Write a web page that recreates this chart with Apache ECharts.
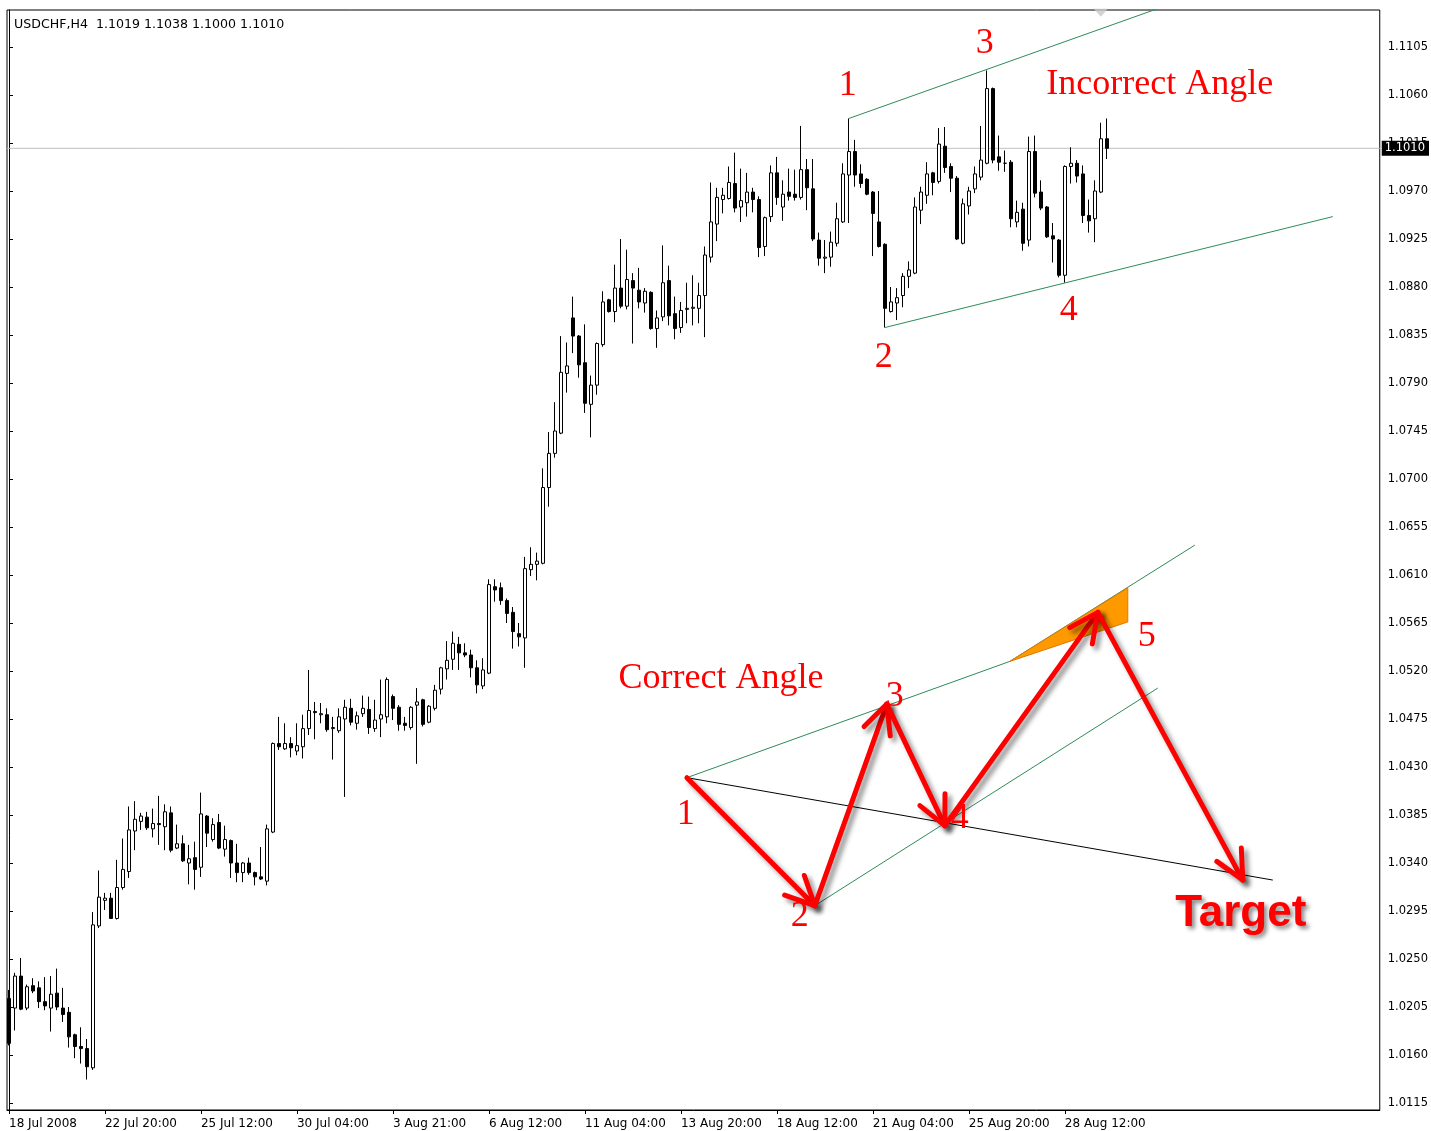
<!DOCTYPE html>
<html>
<head>
<meta charset="utf-8">
<title>USDCHF H4</title>
<script src="https://cdn.jsdelivr.net/npm/echarts@6/dist/echarts.min.js"></script>
<style>
  html, body { margin: 0; padding: 0; background: #fff; }
  #chart { width: 1431px; height: 1131px; }
</style>
</head>
<body>
<div id="chart"></div>
<script>
const chartTitle = 'USDCHF,H4  1.1019 1.1038 1.1000 1.1010';
const lastPrice = 1.1010;

// time labels, one every 16 bars
const xLabels = ['18 Jul 2008', '22 Jul 20:00', '25 Jul 12:00', '30 Jul 04:00', '3 Aug 21:00', '6 Aug 12:00',
  '11 Aug 04:00', '13 Aug 20:00', '18 Aug 12:00', '21 Aug 04:00', '25 Aug 20:00', '28 Aug 12:00'];
const xLabelStep = 16;

const yTicks = [1.0115, 1.0160, 1.0205, 1.0250, 1.0295, 1.0340, 1.0385, 1.0430, 1.0475, 1.0520, 1.0565, 1.0610,
  1.0655, 1.0700, 1.0745, 1.0790, 1.0835, 1.0880, 1.0925, 1.0970, 1.1015, 1.1060, 1.1105];

// H4 bars: [open, high, low, close]
const ohlc = [
  [1.0213, 1.0221, 1.0169, 1.0171], [1.0204, 1.0237, 1.0183, 1.0234], [1.0234, 1.0251, 1.0202, 1.0203],
  [1.0204, 1.0226, 1.0202, 1.0224], [1.0225, 1.0232, 1.0218, 1.0220], [1.0223, 1.0229, 1.0204, 1.0210],
  [1.0210, 1.0233, 1.0202, 1.0206], [1.0204, 1.0234, 1.0182, 1.0217], [1.0218, 1.0241, 1.0202, 1.0205],
  [1.0204, 1.0223, 1.0191, 1.0198], [1.0200, 1.0205, 1.0167, 1.0177], [1.0179, 1.0180, 1.0157, 1.0168],
  [1.0168, 1.0186, 1.0152, 1.0166], [1.0166, 1.0175, 1.0137, 1.0149], [1.0148, 1.0294, 1.0146, 1.0282],
  [1.0281, 1.0333, 1.0279, 1.0308], [1.0305, 1.0312, 1.0296, 1.0307], [1.0307, 1.0312, 1.0288, 1.0288],
  [1.0288, 1.0343, 1.0287, 1.0317], [1.0317, 1.0363, 1.0315, 1.0334], [1.0332, 1.0393, 1.0326, 1.0371],
  [1.0370, 1.0398, 1.0352, 1.0381], [1.0379, 1.0387, 1.0371, 1.0384], [1.0383, 1.0388, 1.0371, 1.0373],
  [1.0372, 1.0391, 1.0364, 1.0377], [1.0377, 1.0403, 1.0357, 1.0376], [1.0374, 1.0395, 1.0352, 1.0388],
  [1.0387, 1.0393, 1.0350, 1.0352], [1.0354, 1.0376, 1.0353, 1.0358], [1.0358, 1.0366, 1.0341, 1.0342],
  [1.0340, 1.0357, 1.0320, 1.0344], [1.0345, 1.0360, 1.0315, 1.0334], [1.0336, 1.0406, 1.0327, 1.0386],
  [1.0384, 1.0385, 1.0355, 1.0368], [1.0362, 1.0382, 1.0360, 1.0376], [1.0378, 1.0386, 1.0353, 1.0354],
  [1.0353, 1.0375, 1.0346, 1.0362], [1.0361, 1.0362, 1.0326, 1.0340], [1.0340, 1.0358, 1.0322, 1.0331],
  [1.0331, 1.0341, 1.0322, 1.0340], [1.0340, 1.0345, 1.0329, 1.0331], [1.0331, 1.0332, 1.0319, 1.0327],
  [1.0327, 1.0355, 1.0324, 1.0325], [1.0323, 1.0376, 1.0319, 1.0372], [1.0369, 1.0453, 1.0368, 1.0452],
  [1.0452, 1.0477, 1.0446, 1.0449], [1.0447, 1.0471, 1.0446, 1.0452], [1.0452, 1.0458, 1.0439, 1.0448],
  [1.0445, 1.0471, 1.0441, 1.0450], [1.0449, 1.0479, 1.0438, 1.0466], [1.0466, 1.0521, 1.0460, 1.0483],
  [1.0482, 1.0491, 1.0456, 1.0481], [1.0479, 1.0490, 1.0471, 1.0480], [1.0479, 1.0485, 1.0463, 1.0465],
  [1.0466, 1.0477, 1.0437, 1.0467], [1.0464, 1.0485, 1.0462, 1.0477], [1.0475, 1.0493, 1.0402, 1.0486],
  [1.0485, 1.0494, 1.0469, 1.0472], [1.0471, 1.0482, 1.0465, 1.0478], [1.0480, 1.0497, 1.0477, 1.0485],
  [1.0484, 1.0496, 1.0461, 1.0467], [1.0466, 1.0493, 1.0463, 1.0474], [1.0475, 1.0512, 1.0458, 1.0479],
  [1.0477, 1.0514, 1.0471, 1.0512], [1.0496, 1.0498, 1.0474, 1.0485], [1.0486, 1.0488, 1.0464, 1.0470],
  [1.0471, 1.0477, 1.0464, 1.0469], [1.0467, 1.0487, 1.0465, 1.0486], [1.0488, 1.0504, 1.0433, 1.0491],
  [1.0493, 1.0494, 1.0468, 1.0470], [1.0472, 1.0488, 1.0471, 1.0487], [1.0485, 1.0507, 1.0483, 1.0502],
  [1.0503, 1.0524, 1.0498, 1.0523], [1.0522, 1.0548, 1.0512, 1.0530], [1.0531, 1.0557, 1.0521, 1.0546],
  [1.0545, 1.0552, 1.0521, 1.0537], [1.0537, 1.0546, 1.0533, 1.0535], [1.0535, 1.0540, 1.0514, 1.0523],
  [1.0523, 1.0530, 1.0499, 1.0507], [1.0506, 1.0532, 1.0503, 1.0521], [1.0518, 1.0606, 1.0517, 1.0601],
  [1.0599, 1.0606, 1.0585, 1.0596], [1.0598, 1.0603, 1.0582, 1.0586], [1.0586, 1.0588, 1.0565, 1.0574],
  [1.0575, 1.0580, 1.0541, 1.0557], [1.0555, 1.0565, 1.0543, 1.0552], [1.0551, 1.0627, 1.0523, 1.0616],
  [1.0615, 1.0636, 1.0609, 1.0620], [1.0620, 1.0631, 1.0605, 1.0623], [1.0621, 1.0710, 1.0620, 1.0692],
  [1.0692, 1.0744, 1.0674, 1.0724], [1.0724, 1.0772, 1.0720, 1.0745], [1.0743, 1.0834, 1.0742, 1.0800],
  [1.0799, 1.0828, 1.0781, 1.0806], [1.0851, 1.0871, 1.0818, 1.0834], [1.0834, 1.0835, 1.0795, 1.0807],
  [1.0809, 1.0845, 1.0762, 1.0771], [1.0770, 1.0797, 1.0739, 1.0788], [1.0788, 1.0828, 1.0779, 1.0827],
  [1.0826, 1.0876, 1.0824, 1.0866], [1.0868, 1.0869, 1.0856, 1.0857], [1.0857, 1.0901, 1.0847, 1.0879],
  [1.0879, 1.0925, 1.0860, 1.0862], [1.0862, 1.0915, 1.0859, 1.0887], [1.0886, 1.0893, 1.0827, 1.0879],
  [1.0877, 1.0898, 1.0860, 1.0866], [1.0865, 1.0879, 1.0856, 1.0876], [1.0875, 1.0876, 1.0840, 1.0841],
  [1.0841, 1.0858, 1.0823, 1.0851], [1.0852, 1.0919, 1.0848, 1.0884], [1.0886, 1.0900, 1.0844, 1.0853],
  [1.0855, 1.0871, 1.0831, 1.0841], [1.0842, 1.0866, 1.0837, 1.0858], [1.0859, 1.0884, 1.0846, 1.0860],
  [1.0860, 1.0891, 1.0844, 1.0861], [1.0860, 1.0884, 1.0846, 1.0872], [1.0872, 1.0918, 1.0833, 1.0910],
  [1.0908, 1.0978, 1.0903, 1.0941], [1.0939, 1.0973, 1.0923, 1.0964], [1.0962, 1.0973, 1.0949, 1.0966],
  [1.0963, 1.0993, 1.0962, 1.0978], [1.0977, 1.1006, 1.0950, 1.0954], [1.0955, 1.0991, 1.0941, 1.0961],
  [1.0959, 1.0987, 1.0946, 1.0969], [1.0969, 1.0973, 1.0950, 1.0962], [1.0962, 1.0965, 1.0908, 1.0917],
  [1.0918, 1.0946, 1.0909, 1.0945], [1.0946, 1.0994, 1.0941, 1.0987], [1.0987, 1.1002, 1.0957, 1.0964],
  [1.0955, 1.0980, 1.0942, 1.0967], [1.0969, 1.0991, 1.0961, 1.0965], [1.0967, 1.0990, 1.0961, 1.0964],
  [1.0964, 1.1031, 1.0962, 1.0990], [1.0990, 1.1000, 1.0952, 1.0973], [1.0972, 1.1000, 1.0923, 1.0925],
  [1.0924, 1.0931, 1.0900, 1.0907], [1.0907, 1.0924, 1.0893, 1.0908], [1.0908, 1.0932, 1.0899, 1.0922],
  [1.0921, 1.0959, 1.0918, 1.0944], [1.0941, 1.0996, 1.0940, 1.0986], [1.0985, 1.1038, 1.0940, 1.1007],
  [1.1007, 1.1018, 1.0974, 1.0985], [1.0986, 1.0995, 1.0973, 1.0977], [1.0981, 1.0982, 1.0966, 1.0967],
  [1.0969, 1.0970, 1.0909, 1.0949], [1.0941, 1.0970, 1.0917, 1.0918], [1.0920, 1.0921, 1.0842, 1.0860],
  [1.0857, 1.0880, 1.0856, 1.0866], [1.0865, 1.0879, 1.0849, 1.0870], [1.0872, 1.0893, 1.0861, 1.0890],
  [1.0890, 1.0904, 1.0879, 1.0896], [1.0893, 1.0964, 1.0892, 1.0955], [1.0952, 1.0974, 1.0939, 1.0969],
  [1.0966, 1.0997, 1.0958, 1.0986], [1.0987, 1.0988, 1.0966, 1.0978], [1.0979, 1.1029, 1.0977, 1.1014],
  [1.1012, 1.1030, 1.0987, 1.0992], [1.0993, 1.0996, 1.0969, 1.0982], [1.0982, 1.0984, 1.0924, 1.0925],
  [1.0921, 1.0963, 1.0920, 1.0958], [1.0956, 1.0974, 1.0948, 1.0970], [1.0972, 1.0993, 1.0968, 1.0986],
  [1.0983, 1.1031, 1.0980, 1.0999], [1.0996, 1.1083, 1.0995, 1.1066], [1.1066, 1.1067, 1.0996, 1.0999],
  [1.1002, 1.1022, 1.0989, 1.0997], [1.0996, 1.1008, 1.0988, 1.0996], [1.0997, 1.0999, 1.0936, 1.0944],
  [1.0941, 1.0961, 1.0936, 1.0950], [1.0953, 1.0959, 1.0914, 1.0921], [1.0924, 1.1021, 1.0918, 1.1007],
  [1.1007, 1.1022, 1.0964, 1.0968], [1.0969, 1.0980, 1.0952, 1.0954], [1.0955, 1.0956, 1.0926, 1.0927],
  [1.0928, 1.0940, 1.0903, 1.0925], [1.0924, 1.0925, 1.0889, 1.0891], [1.0891, 1.0994, 1.0884, 1.0993],
  [1.0993, 1.1011, 1.0977, 1.0996], [1.0996, 1.0999, 1.0978, 1.0984], [1.0986, 1.0994, 1.0940, 1.0947],
  [1.0947, 1.0962, 1.0931, 1.0942], [1.0944, 1.0980, 1.0922, 1.0970], [1.0969, 1.1034, 1.0968, 1.1019],
  [1.1019, 1.1038, 1.1000, 1.1010]
];

// drawn objects, in [bar index, price]
const channelTop = [[140, 1.1038], [196, 1.1150]];
const channelBottom = [[146, 1.0842], [220.67, 1.0946]];
const waveLine13 = [[113, 1.0420], [166.83, 1.0529]];
const waveLineSteep = [[166.83, 1.0529], [197.67, 1.0638]];
const waveLine24 = [[134.33, 1.0300], [191.5, 1.0504]];
const targetLine = [[113, 1.0420], [210.67, 1.0324]];
const wedge = [[166.83, 1.0529], [186.5, 1.0598], [186.5, 1.0566]];
const wavePoints = [[113, 1.0420], [134.33, 1.0300], [146.33, 1.0489], [156, 1.0375], [181.5, 1.0575], [205.67, 1.0324]];
const topMarker = [[182, 1.1137]];

const noteText = ['1', '2', '3', '4', 'Incorrect Angle', '1', '2', '3', '4', '5', 'Correct Angle'];
const notePos = [[139.83, 1.1069], [145.83, 1.0814], [162.67, 1.1108], [176.67, 1.0858], [191.83, 1.1070],
  [112.83, 1.0385], [131.83, 1.0290], [147.67, 1.0496], [158.5, 1.0382], [189.67, 1.0552], [118.67, 1.0513]];
const targetText = 'Target';
const targetPos = [[205.33, 1.0292]];

const chart = echarts.init(document.getElementById('chart'));

const X_MIN = -1 / 3, X_MAX = 228.5;
const candleData = ohlc.map((d, i) => [i, d[0], d[3], d[2], d[1]]);
const xTickValues = xLabels.map((_, i) => i * xLabelStep);
const arrowSegs = wavePoints.slice(1).map((p, i) => [wavePoints[i][0], wavePoints[i][1], p[0], p[1]]);

const RED = '#ff0000';
const GREEN = '#2e8b57';
const FONT = 'DejaVu Sans';

function trendLine(points, color) {
  return {
    type: 'line',
    data: points,
    showSymbol: false,
    symbol: 'none',
    silent: true,
    z: 4,
    lineStyle: { color, width: 1 },
  };
}

chart.setOption({
  animation: false,
  backgroundColor: '#fff',
  title: {
    text: chartTitle,
    left: 9,
    top: 13,
    textStyle: { fontSize: 12.6, fontWeight: 'normal', color: '#000', fontFamily: FONT },
  },
  grid: {
    left: 7, right: 51, top: 10, bottom: 21,
    show: true, borderColor: '#000', borderWidth: 1, backgroundColor: '#fff',
  },
  xAxis: {
    type: 'value',
    min: X_MIN,
    max: X_MAX,
    axisLine: { show: true, onZero: false, lineStyle: { color: '#000', width: 1 } },
    axisTick: { show: true, customValues: xTickValues, length: 4, lineStyle: { color: '#000' } },
    axisLabel: {
      customValues: xTickValues,
      formatter: v => xLabels[Math.round(v / xLabelStep)] || '',
      align: 'left',
      color: '#000',
      fontSize: 12,
      fontFamily: FONT,
      margin: 8,
    },
    splitLine: { show: false },
  },
  yAxis: {
    type: 'value',
    position: 'right',
    min: 1.010844,
    max: 1.113969,
    axisLine: { show: true, lineStyle: { color: '#000', width: 1 } },
    axisTick: { show: true, customValues: yTicks, length: 4, lineStyle: { color: '#000' } },
    axisLabel: {
      customValues: yTicks,
      formatter: v => v.toFixed(4),
      color: '#000',
      fontSize: 11.5,
      fontFamily: FONT,
      margin: 8,
      padding: [3, 0, 0, 0],
    },
    splitLine: { show: false },
  },
  series: [
    {
      // last price line with its label on the price scale
      type: 'line',
      data: [[X_MIN, lastPrice], [X_MAX, lastPrice]],
      symbol: 'none',
      showSymbol: false,
      silent: true,
      z: 1,
      lineStyle: { color: '#c0c0c0', width: 1 },
      endLabel: {
        show: true,
        formatter: lastPrice.toFixed(4),
        color: '#fff',
        backgroundColor: '#000',
        padding: [2, 4, 1, 3],
        distance: 2,
        fontSize: 11.5,
        fontFamily: FONT,
      },
    },
    {
      type: 'candlestick',
      data: candleData,
      encode: { x: 0, y: [1, 2, 3, 4] },
      barWidth: 4,
      z: 3,
      silent: true,
      itemStyle: {
        color: '#ffffff',
        color0: '#000000',
        borderColor: '#000000',
        borderColor0: '#000000',
        borderWidth: 1,
      },
    },
    trendLine(channelTop, GREEN),
    trendLine(channelBottom, GREEN),
    trendLine(waveLine13, GREEN),
    trendLine(waveLineSteep, GREEN),
    trendLine(waveLine24, GREEN),
    trendLine(targetLine, '#000'),
    {
      type: 'scatter',
      data: topMarker,
      symbol: 'triangle',
      symbolRotate: 180,
      symbolSize: [14, 8],
      silent: true,
      z: 2,
      itemStyle: { color: '#c8c8c8' },
    },
    {
      // orange wedge between the two upper lines
      type: 'custom',
      silent: true,
      z: 5,
      data: [0],
      renderItem: (params, api) => ({
        type: 'polygon',
        shape: { points: wedge.map(p => api.coord(p)) },
        style: { fill: '#ff9900', stroke: '#e07800', lineWidth: 1 },
      }),
    },
    {
      // red wave arrows
      type: 'custom',
      silent: true,
      z: 6,
      data: arrowSegs,
      encode: { x: [0, 2], y: [1, 3] },
      renderItem: (params, api) => {
        const a = api.coord([api.value(0), api.value(1)]);
        const b = api.coord([api.value(2), api.value(3)]);
        const ang = Math.atan2(b[1] - a[1], b[0] - a[0]);
        const len = 32, spread = 0.45;
        const h1 = [b[0] - len * Math.cos(ang - spread), b[1] - len * Math.sin(ang - spread)];
        const h2 = [b[0] - len * Math.cos(ang + spread), b[1] - len * Math.sin(ang + spread)];
        const style = {
          stroke: RED, lineWidth: 5, lineCap: 'round', lineJoin: 'round', fill: null,
          shadowBlur: 5, shadowColor: 'rgba(0,0,0,0.45)', shadowOffsetX: 4, shadowOffsetY: 4,
        };
        return {
          type: 'group',
          children: [
            { type: 'line', shape: { x1: a[0], y1: a[1], x2: b[0], y2: b[1] }, style },
            { type: 'polyline', shape: { points: [h1, b, h2] }, style },
          ],
        };
      },
    },
    {
      // red notes
      type: 'custom',
      silent: true,
      z: 7,
      data: notePos,
      renderItem: (params, api) => {
        const p = api.coord([api.value(0), api.value(1)]);
        return {
          type: 'text',
          x: p[0], y: p[1],
          style: {
            text: noteText[params.dataIndex],
            fill: RED,
            fontSize: 36,
            fontFamily: 'Liberation Serif',
            align: 'center',
            verticalAlign: 'middle',
          },
        };
      },
    },
    {
      type: 'custom',
      silent: true,
      z: 7,
      data: targetPos,
      renderItem: (params, api) => {
        const p = api.coord([api.value(0), api.value(1)]);
        return {
          type: 'text',
          x: p[0], y: p[1],
          style: {
            text: targetText,
            fill: RED,
            fontSize: 44,
            fontWeight: 'bold',
            fontFamily: 'Liberation Sans',
            align: 'center',
            verticalAlign: 'middle',
            textShadowColor: 'rgba(0,0,0,0.45)',
            textShadowBlur: 4,
            textShadowOffsetX: 3,
            textShadowOffsetY: 3,
          },
        };
      },
    },
  ],
});

window.addEventListener('resize', () => chart.resize());
</script>
</body>
</html>
